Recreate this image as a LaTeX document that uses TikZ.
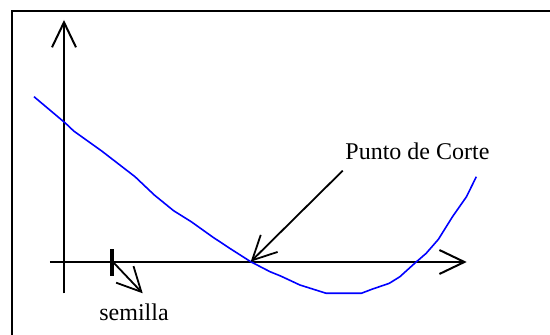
\documentclass[tikz,border=0pt]{standalone}
\usepackage{fontspec}
\setmainfont{Liberation Serif}
\usetikzlibrary{arrows.meta}
\tikzset{
  eje/.style={line width=1pt,-{Straight Barb[length=12.5pt,width=12pt]}},
  flecha/.style={line width=0.9pt,-{Straight Barb[length=12pt,width=12pt]}},
  curva/.style={blue,line width=0.8pt,line join=round},
  rotulo/.style={inner sep=0pt,font=\fontsize{12}{14}\selectfont}
}
\begin{document}
\begin{tikzpicture}[x=0.5pt,y=-0.5pt]
  \useasboundingbox (0,0) rectangle (550,335);
  \clip (0,0) rectangle (550,335);
  % marco
  \draw[line width=1pt] (11.6,350) -- (11.6,11.5) -- (560,11.5);
  % ejes
  \coordinate (xini) at (49.8,262);
  \coordinate (xfin) at (466.7,262);
  \coordinate (yini) at (64,293.3);
  \coordinate (yfin) at (64,20);
  \draw[eje] (xini) -- (xfin);
  \draw[eje] (yini) -- (yfin);
  % funcion
  \draw[curva] plot coordinates {(34,96.7) (65.6,123.3) (73.7,131) (101.7,151)
    (135,176.7) (154.3,195) (173.6,210.7) (191.2,221.7) (212.2,236.7)
    (229.7,248.3) (250.7,261.7) (270,271.7) (280.6,276) (299.9,285)
    (326.2,293.3) (361.3,293.3) (371.8,289.3) (389.3,283.3) (399.9,276.7)
    (413.9,264) (426.2,253.3) (438.4,239.3) (452.5,216.7) (466.5,196.7)
    (476.3,176.7)};
  % semilla
  \coordinate (sa) at (111.7,249.3);
  \coordinate (sb) at (111.7,276);
  \draw[line width=2pt] (sa) -- (sb);
  \coordinate (sem) at (113,262);
  \coordinate (semtip) at (142.7,293.3);
  \draw[flecha] (sem) -- (semtip);
  \node[rotulo,anchor=base west] (semilla) at (99,321) {semilla};
  % punto de corte
  \coordinate (corte) at (250.7,261.7);
  \node[rotulo,anchor=base west] (pc) at (345,160) {Punto de Corte};
  \coordinate (pcini) at (342.7,170.7);
  \draw[flecha] (pcini) -- (corte);
\end{tikzpicture}
\end{document}
